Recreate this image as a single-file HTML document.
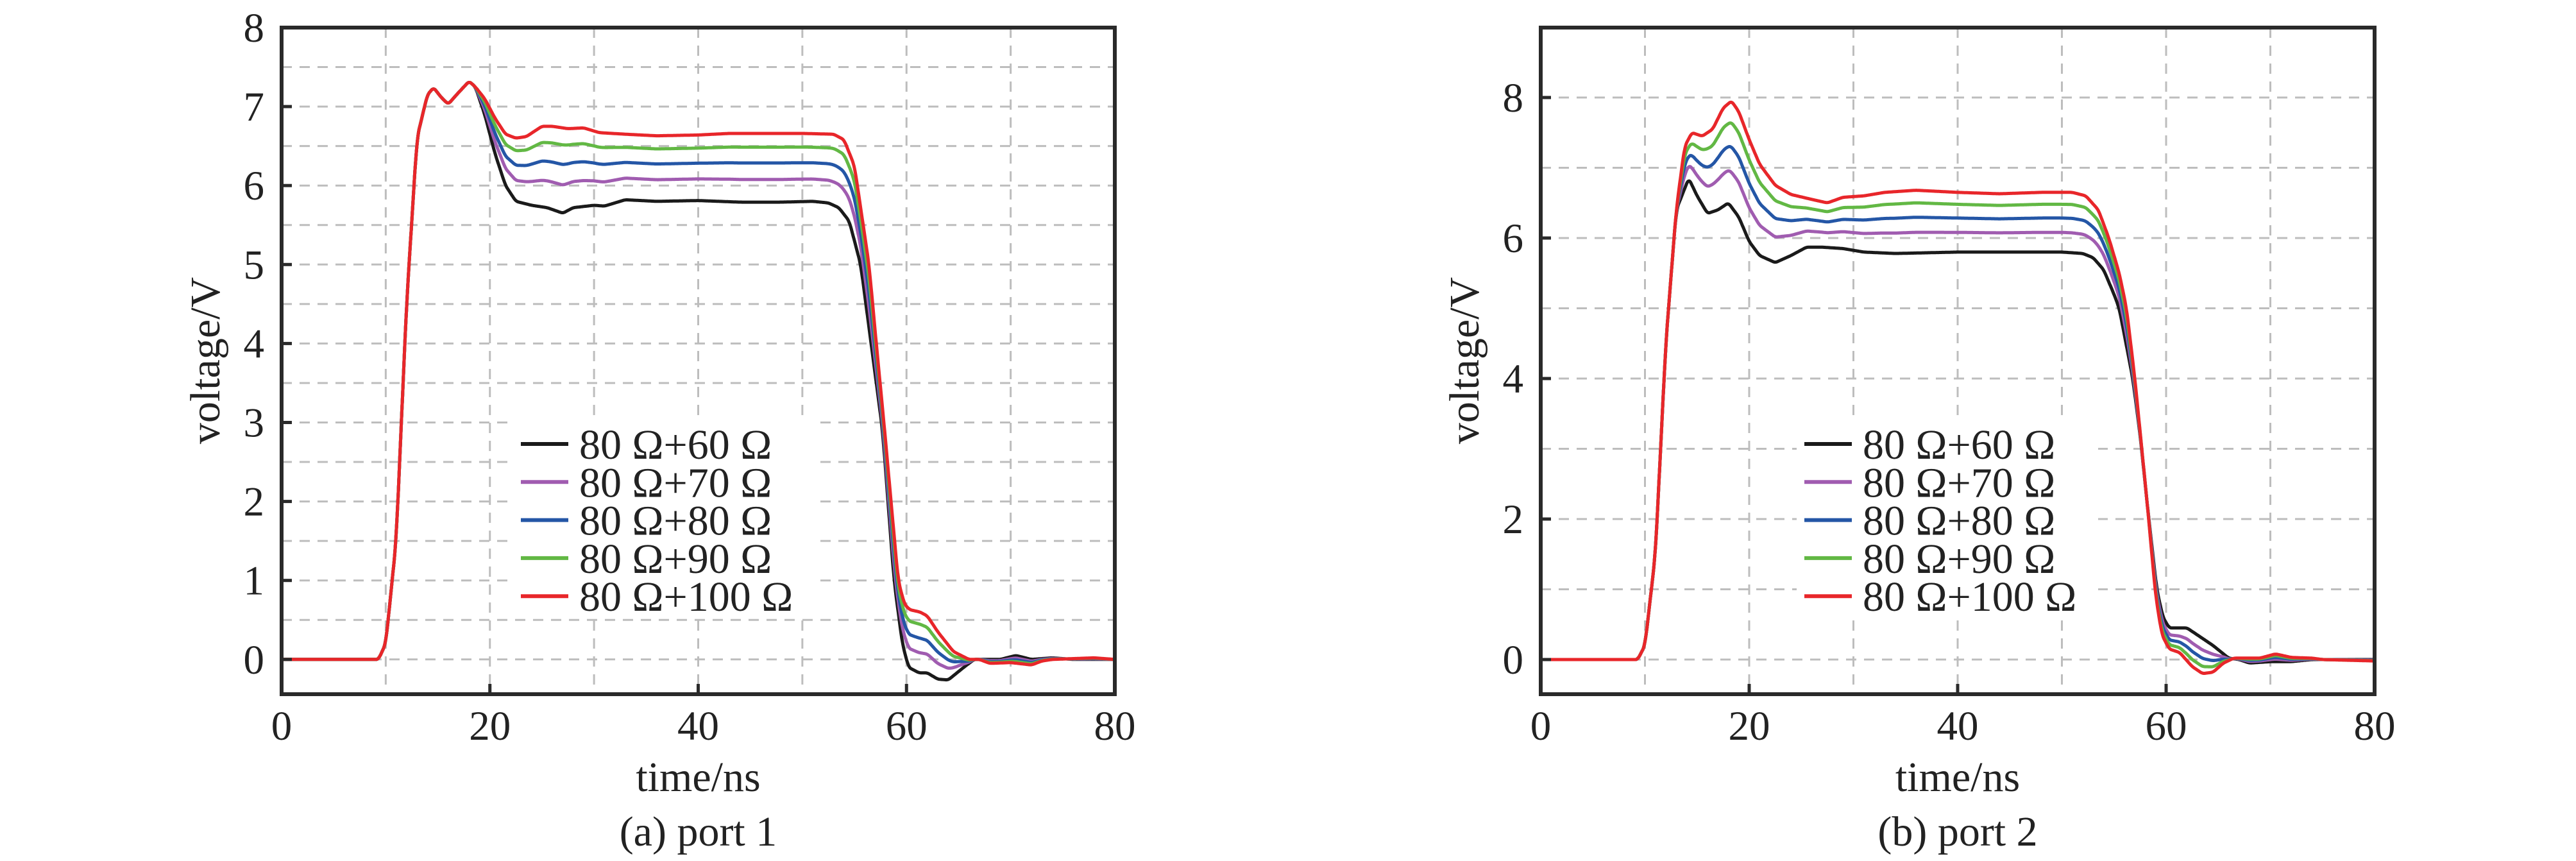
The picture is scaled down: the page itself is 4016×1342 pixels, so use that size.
<!DOCTYPE html>
<html><head><meta charset="utf-8"><style>
html,body{margin:0;padding:0;background:#fff;}
svg{display:block;}
text{font-family:"Liberation Serif",serif;fill:#222;}
</style></head><body>
<svg id="s" width="4016" height="1342" xmlns="http://www.w3.org/2000/svg"></svg>
<script>
const S=document.getElementById('s');
let out='';
const cols=['#1a1a1a','#a05cb0','#2456a6','#62b844','#e8262a'];
const labs=['80 Ω+60 Ω','80 Ω+70 Ω','80 Ω+80 Ω','80 Ω+90 Ω','80 Ω+100 Ω'];
function interp(pts,t){
  if(t<=pts[0][0])return pts[0][1];
  for(let i=1;i<pts.length;i++){if(t<=pts[i][0]){const a=pts[i-1],b=pts[i];return a[1]+(b[1]-a[1])*(t-a[0])/(b[0]-a[0]);}}
  return pts[pts.length-1][1];
}
function series(lo,hi,w){
  const dt=0.05,arr=[];
  for(let t=0;t<=80.0001;t+=dt){arr.push([t,(1-w)*interp(lo,t)+w*interp(hi,t)]);}
  const sm=[];const k=4;
  for(let i=0;i<arr.length;i++){let s=0,n=0;for(let j=-k;j<=k;j++){const q=arr[i+j];if(q){s+=q[1];n++;}}sm.push([arr[i][0],s/n]);}
  return sm;
}
function plot(o){
  const X=t=>o.x0+(o.x1-o.x0)*t/80, Y=v=>o.y8+(8-v)*o.pu;
  for(let t=10;t<80;t+=10)out+=`<line x1="${X(t)}" y1="${o.top}" x2="${X(t)}" y2="${o.bot}" stroke="#bdbdbd" stroke-width="3" stroke-dasharray="16,12"/>`;
  for(let v=o.gmin;v<=o.gmax+1e-6;v+=o.gs)out+=`<line x1="${o.x0}" y1="${Y(v)}" x2="${o.x1}" y2="${Y(v)}" stroke="#bdbdbd" stroke-width="3" stroke-dasharray="16,12"/>`;
  out+=`<rect x="${o.lx-12}" y="652" width="${o.lbw}" height="312" fill="#fff"/>`;
  for(let i=0;i<5;i++){
    const w=o.w[i];const d=series(o.lo,o.hi,w);
    let p='';d.forEach((q,j)=>{p+=(j?'L':'M')+X(q[0]).toFixed(1)+' '+Y(q[1]).toFixed(1);});
    out+=`<path d="${p}" fill="none" stroke="${cols[i]}" stroke-width="5" stroke-linejoin="round"/>`;
  }
  for(let i=0;i<5;i++){const y=692+i*59.3;
    out+=`<line x1="${o.lx}" y1="${y}" x2="${o.lx+74}" y2="${y}" stroke="${cols[i]}" stroke-width="6"/>`;
    out+=`<text x="${o.lx+91}" y="${y+23}" font-size="66">${labs[i]}</text>`;}
  out+=`<rect x="${o.x0}" y="${o.top}" width="${o.x1-o.x0}" height="${o.bot-o.top}" fill="none" stroke="#2a2a2a" stroke-width="6"/>`;
  for(let t=0;t<=80;t+=20){out+=`<line x1="${X(t)}" y1="${o.bot}" x2="${X(t)}" y2="${o.bot-16}" stroke="#2a2a2a" stroke-width="5"/>`;
    out+=`<text x="${X(t)}" y="1153" font-size="65" text-anchor="middle">${t}</text>`;}
  for(let v=0;v<=8;v+=o.ys){out+=`<line x1="${o.x0}" y1="${Y(v)}" x2="${o.x0+16}" y2="${Y(v)}" stroke="#2a2a2a" stroke-width="5"/>`;
    out+=`<text x="${o.x0-27}" y="${Y(v)+22}" font-size="65" text-anchor="end">${v}</text>`;}
  const cx=(o.x0+o.x1)/2;
  out+=`<text x="${cx}" y="1233" font-size="66" text-anchor="middle">time/ns</text>`;
  out+=`<text x="${cx}" y="1318" font-size="66" text-anchor="middle">${o.cap}</text>`;
  out+=`<text transform="translate(${o.x0-97},562) rotate(-90)" font-size="66" text-anchor="middle">voltage/V</text>`;
}
const riseA=[[0,0],[9.3,0],[10,0.2],[11,1.5],[12,4.5],[13,6.6],[14,7.15],[14.6,7.24],[15.3,7.12],[16,7.03],[16.8,7.15],[18,7.32],[18.6,7.25]];
const loA=riseA.concat([[19.5,6.9],[20.5,6.4],[21.5,6.0],[22.5,5.8],[24,5.75],[25.5,5.72],[27,5.65],[28,5.72],[30,5.75],[31,5.74],[33,5.82],[36,5.8],[40,5.81],[44,5.79],[48,5.79],[51,5.8],[52.5,5.78],[53.5,5.72],[54.5,5.55],[55.6,5.0],[56.6,4.0],[57.7,2.9],[58.8,1.0],[59.6,0.2],[60.2,-0.1],[61.2,-0.17],[62,-0.17],[63,-0.25],[64,-0.26],[65.5,-0.1],[66.5,0],[69,0.0],[70.5,0.05],[72,0],[74,0.02],[76,0],[80,0]]);
const hiA=riseA.concat([[19.5,7.1],[20.5,6.85],[21.5,6.65],[22.5,6.6],[23.5,6.62],[25,6.75],[26,6.75],[27.5,6.72],[29,6.73],[30.5,6.67],[33,6.65],[36,6.63],[40,6.64],[43,6.66],[46,6.66],[50,6.66],[53,6.65],[54,6.58],[55,6.25],[56.4,5.0],[57.1,4.0],[57.9,2.9],[59.2,1.0],[59.8,0.7],[60.3,0.63],[61.3,0.6],[62,0.55],[63,0.35],[64.5,0.1],[66,0],[67,0],[68,-0.05],[70,-0.04],[72,-0.07],[73,-0.02],[74,0],[78,0.02],[80,0]]);
const riseB=[[0,0],[9.3,0],[10,0.2],[11,1.5],[12,4.5],[13,6.4]];
const loB=riseB.concat([[14.2,6.85],[15,6.6],[16,6.35],[17,6.4],[18,6.5],[19,6.3],[20,5.95],[21,5.75],[22.5,5.65],[24,5.75],[25.5,5.87],[27,5.87],[29,5.85],[31,5.8],[34,5.78],[40,5.8],[50,5.8],[52,5.78],[53,5.72],[54,5.55],[55,5.2],[55.5,5.0],[56.8,4.0],[57.5,3.2],[58.2,2.2],[59.1,1.0],[59.7,0.6],[60.3,0.45],[62,0.45],[63,0.35],[64.5,0.2],[66,0.02],[67,0],[68,-0.05],[70,-0.03],[72,-0.03],[74,0],[80,0]]);
const hiB=riseB.concat([[13.8,7.3],[14.5,7.5],[15.5,7.45],[16.5,7.55],[17.5,7.85],[18.3,7.95],[19,7.8],[20,7.4],[21,7.05],[22.5,6.75],[24,6.62],[26,6.55],[27.5,6.5],[29,6.58],[31,6.6],[33,6.65],[36,6.68],[40,6.65],[44,6.63],[48,6.65],[51,6.65],[52.3,6.6],[53.5,6.4],[54.5,6.0],[55.5,5.5],[56.2,5.0],[57,4.0],[58.2,2.2],[59,0.9],[59.6,0.35],[60.3,0.15],[61.3,0.1],[62.5,-0.1],[63.5,-0.2],[64.5,-0.18],[65.5,-0.05],[66.5,0.02],[69,0.02],[70.5,0.08],[72,0.03],[74,0.02],[75,0],[80,-0.02]]);
plot({x0:439,x1:1738,top:43,bot:1082,y8:43,pu:123.1,gmin:0,gmax:7.5,gs:0.5,ys:1,lo:loA,hi:hiA,w:[0,0.33,0.57,0.8,1],lx:812,lbw:470,cap:'(a) port 1'});
plot({x0:2402,x1:3702,top:43,bot:1082,y8:152,pu:109.5,gmin:0,gmax:8,gs:1,ys:2,lo:loB,hi:hiB,w:[0,0.33,0.57,0.8,1],lx:2813,lbw:470,cap:'(b) port 2'});
S.innerHTML=out;
</script>
</body></html>
